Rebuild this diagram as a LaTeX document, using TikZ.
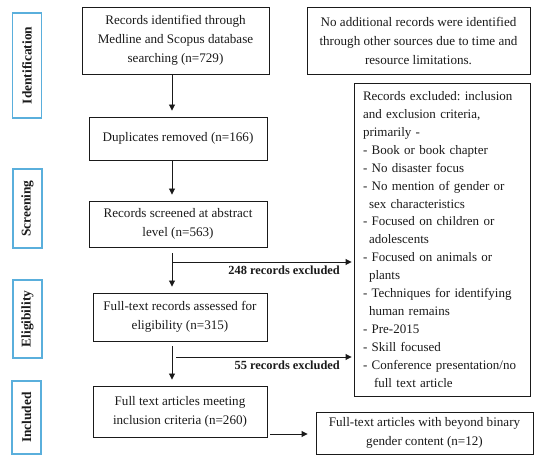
\documentclass[tikz,border=0pt]{standalone}
\usepackage{fontspec}
\setmainfont{Liberation Serif}
\usetikzlibrary{arrows.meta}
\definecolor{stageblue}{HTML}{5AAFDC}
\definecolor{inkgray}{HTML}{1A1A1A}
\frenchspacing
\tikzset{
  flowbox/.style={draw=inkgray, line width=0.9pt, align=center, inner sep=2pt,
    font=\fontsize{13.1}{19}\selectfont, text=inkgray},
  stagebox/.style={draw=stageblue, line width=1.4pt, minimum width=29pt, inner sep=0pt},
  stagetext/.style={rotate=90, font=\fontsize{13.4}{15}\selectfont\bfseries, text=inkgray},
  arr/.style={draw=inkgray, line width=0.9pt, -{Triangle[length=6pt,width=6pt]}},
  exlabel/.style={font=\fontsize{12.4}{14}\selectfont\bfseries, text=inkgray, inner sep=0pt},
}
\begin{document}
\begin{tikzpicture}[x=1pt,y=-1pt]
\useasboundingbox (0,0) rectangle (550,465);
% stage boxes
\node[stagebox, minimum height=105pt] (sid) at (27,65.5) {};
\node[stagetext] at (sid.center) {Identification};
\node[stagebox, minimum height=79pt] (ssc) at (27.5,208.5) {};
\node[stagetext] at (ssc.center) {Screening};
\node[stagebox, minimum height=78pt] (sel) at (27.5,319) {};
\node[stagetext] at (sel.center) {Eligibility};
\node[stagebox, minimum height=73pt] (sin) at (26.5,417.5) {};
\node[stagetext] at (sin.center) {Included};
% flow boxes
\node[flowbox, minimum width=187pt, minimum height=67pt] (b1) at (175.5,40.5)
  {Records identified through\\Medline and Scopus database\\searching (n=729)};
\node[flowbox, minimum width=178pt, minimum height=43pt] (b2) at (178,138.5)
  {Duplicates removed (n=166)};
\node[flowbox, minimum width=178pt, minimum height=46pt] (b3) at (178,224)
  {Records screened at abstract\\level (n=563)};
\node[flowbox, minimum width=174pt, minimum height=48pt] (b4) at (180,317)
  {Full-text records assessed for\\eligibility (n=315)};
\node[flowbox, minimum width=174pt, minimum height=51pt] (b5) at (180,411.5)
  {Full text articles meeting\\inclusion criteria (n=260)};
\node[flowbox, minimum width=223pt, minimum height=67pt] (na) at (418.5,40.5)
  {No additional records were identified\\through other sources due to time and\\resource limitations.};
\node[flowbox, minimum width=217pt, minimum height=42pt] (b6) at (424.5,433)
  {Full-text articles with beyond binary\\gender content (n=12)};
\node[flowbox, minimum width=176pt, minimum height=313pt, align=left, text width=158pt,
  font=\fontsize{13}{17.95}\selectfont] (ex) at (442,239.5)
  {Records excluded: inclusion\\
   and exclusion criteria,\\
   primarily -\\
   - Book or book chapter\\
   - No disaster focus\\
   - No mention of gender or\\
   \hspace*{6pt}sex characteristics\\
   - Focused on children or\\
   \hspace*{6pt}adolescents\\
   - Focused on animals or\\
   \hspace*{6pt}plants\\
   - Techniques for identifying\\
   \hspace*{6pt}human remains\\
   - Pre-2015\\
   - Skill focused\\
   - Conference presentation/no\\
   \hspace*{11pt}full text article};
% arrows
\coordinate (xa) at (172,0);
\coordinate (y248) at (0,262);
\coordinate (y55) at (0,357);
\coordinate (y12) at (0,434);
\draw[arr, shorten >=6pt] (b1.south -| xa) -- (b2.north -| xa);
\draw[arr, shorten >=6pt] (b2.south -| xa) -- (b3.north -| xa);
\draw[arr, shorten >=6pt] ([yshift=-6pt]b3.south -| xa) -- (b4.north -| xa);
\draw[arr, shorten >=6pt] ([yshift=-5pt]b4.south -| xa) -- (b5.north -| xa);
\draw[arr, shorten >=2pt] (y248 -| xa) -- (y248 -| ex.west);
\draw[arr, shorten >=2pt] ([xshift=4pt]y55 -| xa) -- (y55 -| ex.west);
\draw[arr, shorten <=3pt, shorten >=8pt] (y12 -| b5.east) -- (y12 -| b6.west);
\node[exlabel, anchor=east] (l248) at (340,270) {248 records excluded};
\node[exlabel, anchor=east] (l55) at (340,365) {55 records excluded};
\end{tikzpicture}
\end{document}
